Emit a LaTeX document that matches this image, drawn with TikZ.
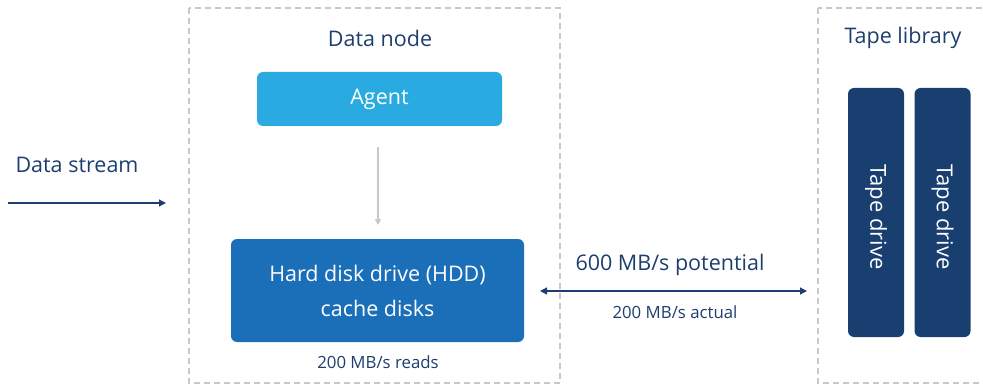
\documentclass[tikz,border=0pt]{standalone}
\usepackage{fontspec}
\setmainfont{Open Sans}
\usetikzlibrary{arrows.meta}
\definecolor{navy}{HTML}{1D3E6E}
\definecolor{agentblue}{HTML}{29ABE2}
\definecolor{hddblue}{HTML}{1B6FB8}
\definecolor{tapenavy}{HTML}{193F70}
\definecolor{dashgray}{HTML}{C8C8C8}
\definecolor{arrowgray}{HTML}{C8C8C8}
\tikzset{
  group/.style={draw=dashgray, dashed, dash pattern=on 6pt off 4pt, line width=1.2pt},
  label/.style={text=navy, font=\fontsize{21.5}{25}\selectfont, inner sep=0pt},
  small/.style={text=navy, font=\fontsize{16.8}{20}\selectfont, inner sep=0pt},
  boxtext/.style={text=white, font=\fontsize{21.5}{35}\selectfont, align=center},
  flow/.style={draw=navy, line width=1.2pt, -{Triangle[length=7pt,width=7pt]}},
  tape/.style={fill=tapenavy, rounded corners=6pt, minimum width=56pt, minimum height=249pt, inner sep=0pt},
  tapetext/.style={rotate=-90, text=white, font=\fontsize{22}{25}\selectfont, inner sep=0pt},
}
\begin{document}
\begin{tikzpicture}[x=1pt,y=-1pt]
\useasboundingbox (0,0) rectangle (983,385);
\begin{scope}
\clip (0,0) rectangle (983,385);
\draw[group] (189,8) rectangle (560,383);
\draw[group] (818,8) rectangle (995,383);
\end{scope}
\node[label] (dnt) at (380,38) {Data node};
\node[label] (tlt) at (903,38) {Tape library};
\node[fill=agentblue, rounded corners=6pt, minimum width=245pt, minimum height=54pt, boxtext] (agent) at (379.5,99) {Agent};
\node[fill=hddblue, rounded corners=6pt, minimum width=293pt, minimum height=103pt, boxtext] (hdd) at (377.5,290.5) {Hard disk drive (HDD)\\cache disks};
\node[small] (reads) at (378,362) {200 MB/s reads};
\coordinate (ga) at (378,147);
\coordinate (gb) at (378,225);
\draw[draw=arrowgray, line width=1.2pt, -{Triangle[length=6pt,width=6pt]}] (ga) -- (gb);
\node[label] (ds) at (77,165) {Data stream};
\coordinate (dsa) at (8,203);
\coordinate (dsb) at (166,203);
\draw[flow] (dsa) -- (dsb);
\node[tape] (t1) at (876,212.5) {};
\node[tape] (t2) at (942.5,212.5) {};
\node[tapetext] (t1l) at (876,217) {Tape drive};
\node[tapetext] (t2l) at (942.5,217) {Tape drive};
\coordinate (la) at (540,291);
\coordinate (lb) at (807,291);
\draw[draw=navy, line width=1.2pt, {Triangle[length=7pt,width=7pt]}-{Triangle[length=7pt,width=7pt]}] (la) -- (lb);
\node[label] (pot) at (670,265) {600 MB/s potential};
\node[small] (act) at (675,312) {200 MB/s actual};
\end{tikzpicture}
\end{document}
